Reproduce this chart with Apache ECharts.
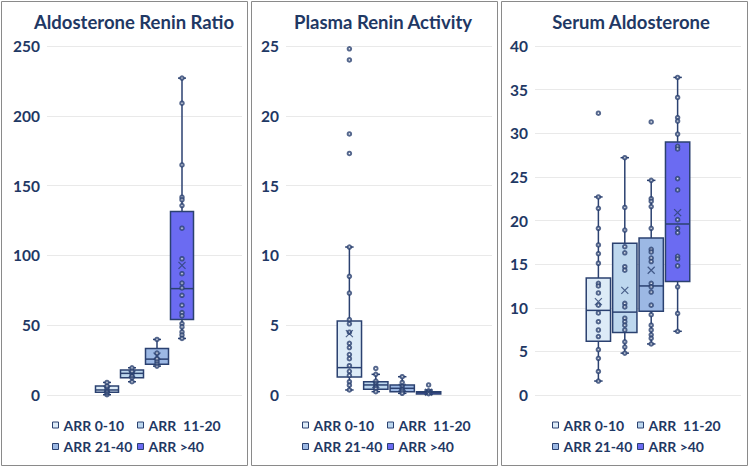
<!DOCTYPE html>
<html><head><meta charset="utf-8">
<script src="https://cdn.jsdelivr.net/npm/echarts@6/dist/echarts.min.js"></script>
<style>html,body{margin:0;padding:0;background:#fff}#c{width:750px;height:468px}</style>
</head><body><div id="c"></div><script>
// ---- data ----
const groupNames = ['ARR 0-10', 'ARR  11-20', 'ARR 21-40', 'ARR >40'];
const panelTitles = ['Aldosterone Renin Ratio', 'Plasma Renin Activity', 'Serum Aldosterone'];
const yMaxes = [250, 25, 40];
const yIntervals = [50, 5, 5];

// box stats per group: [min, Q1, median, Q3, max]
const arrBoxes = [[0.2, 1.9, 3.6, 6.4, 9.0], [9.5, 12.4, 15.5, 17.9, 19.5], [20.7, 22.1, 25.7, 33.3, 39.8], [40.5, 54, 76.2, 131.4, 227]];
const arrMeans = [4.0, 15.0, 27.9, 92.9];
const arrPoints = [
  [0.2, 1.5, 2.5, 3.5, 5, 6.5, 9.0],
  [9.5, 12.5, 14, 16, 17, 19.5],
  [20.7, 23, 24.5, 26, 30, 39.8],
  [227, 209, 164.8, 141.7, 139.8, 135.7, 119.5, 97.6, 86.9, 80.2, 76.7, 71.4, 64.3, 59, 56.7, 51.2, 48.8, 45.2, 42.9, 40.5]
];

const reninBoxes = [[0.36, 1.29, 1.96, 5.3, 10.6], [0.24, 0.41, 0.72, 0.95, 1.48], [0.12, 0.24, 0.48, 0.72, 1.31], [0.05, 0.07, 0.17, 0.24, 0.35]];
const reninMeans = [4.4, 0.75, 0.55, 0.2];
const reninPoints = [
  [24.8, 24.0, 18.7, 17.3, 10.6, 8.5, 7.3, 5.4, 5.1, 4.5, 3.7, 3.4, 2.9, 2.6, 2.1, 1.7, 1.4, 0.95, 0.7, 0.36],
  [1.9, 1.48, 1.0, 0.8, 0.6, 0.45, 0.24],
  [1.31, 0.9, 0.6, 0.4, 0.25, 0.12],
  [0.72, 0.3, 0.2, 0.1]
];

const aldoBoxes = [[1.6, 6.15, 9.7, 13.4, 22.7], [4.8, 7.15, 9.5, 17.4, 27.2], [5.85, 9.6, 12.5, 18.0, 24.6], [7.3, 13.0, 19.6, 29.0, 36.4]];
const aldoMeans = [10.7, 12.0, 14.3, 20.9];
const aldoPoints = [
  [32.3, 22.7, 21.4, 19.1, 17.2, 16.2, 15.1, 12.8, 12.5, 11.7, 10.3, 9.4, 8.4, 7.45, 6.7, 5.2, 4.2, 2.7, 1.6],
  [27.2, 21.5, 18.9, 17.0, 16.3, 14.7, 14.3, 10.5, 10.1, 8.8, 8.4, 8.0, 7.45, 6.1, 5.5, 4.8],
  [31.3, 24.6, 22.5, 22.2, 21.6, 19.1, 16.7, 16.4, 15.7, 15.3, 12.8, 12.4, 11.8, 10.3, 9.2, 8.0, 7.45, 6.9, 6.5, 5.85],
  [36.4, 34.1, 31.8, 31.4, 29.9, 28.5, 28.2, 24.8, 23.5, 20.1, 19.1, 18.6, 15.9, 15.6, 14.8, 12.4, 9.35, 7.3]
];

// ---- style ----
const FILLS = ['#DDEBF7', '#BDD7EE', '#9CB8E4', '#6B6BF2'];
const EDGE = '#2B4170';
const NAVY = '#1F3864';
const FONT = 'Lato, "Open Sans", sans-serif';
const BOX_W = 0.92, CAP_W = 0.32;

const panels = [
  { boxes: arrBoxes, means: arrMeans, points: arrPoints },
  { boxes: reninBoxes, means: reninMeans, points: reninPoints },
  { boxes: aldoBoxes, means: aldoMeans, points: aldoPoints }
];
const gridRects = [
  { left: 47, top: 46, width: 195, height: 349 },
  { left: 286, top: 46, width: 206, height: 349 },
  { left: 535, top: 46, width: 206, height: 349 }
];
const titleX = [129, 378, 626];
const legendX = [47, 297, 547];

function renderBox(params, api) {
  const x = api.value(0);
  const lo = api.coord([x, api.value(1)]);
  const q1 = api.coord([x, api.value(2)]);
  const md = api.coord([x, api.value(3)]);
  const q3 = api.coord([x, api.value(4)]);
  const hi = api.coord([x, api.value(5)]);
  const bw = api.size([BOX_W, 0])[0];
  const cw = api.size([CAP_W, 0])[0];
  const cx = lo[0];
  const ls = { stroke: EDGE, lineWidth: 1.5 };
  return { type: 'group', children: [
    { type: 'line', shape: { x1: cx, y1: q3[1], x2: cx, y2: hi[1] }, style: ls },
    { type: 'line', shape: { x1: cx - cw / 2, y1: hi[1], x2: cx + cw / 2, y2: hi[1] }, style: ls },
    { type: 'line', shape: { x1: cx, y1: q1[1], x2: cx, y2: lo[1] }, style: ls },
    { type: 'line', shape: { x1: cx - cw / 2, y1: lo[1], x2: cx + cw / 2, y2: lo[1] }, style: ls },
    { type: 'rect', shape: { x: cx - bw / 2, y: q3[1], width: bw, height: q1[1] - q3[1] }, style: { fill: api.visual('color'), stroke: EDGE, lineWidth: 1.5 } },
    { type: 'line', shape: { x1: cx - bw / 2, y1: md[1], x2: cx + bw / 2, y2: md[1] }, style: ls }
  ] };
}

const grid = [], xAxis = [], yAxis = [], series = [], title = [], legend = [];
panels.forEach((p, pi) => {
  grid.push(gridRects[pi]);
  xAxis.push({ type: 'value', gridIndex: pi, min: -2.4, max: 5.4, show: false });
  yAxis.push({
    type: 'value', gridIndex: pi, min: 0, max: yMaxes[pi], interval: yIntervals[pi],
    axisLine: { show: false }, axisTick: { show: false },
    splitLine: { lineStyle: { color: '#E9E9E9', width: 1 } },
    axisLabel: { color: NAVY, fontWeight: 'bold', fontSize: 15.5, fontFamily: FONT, margin: 7 }
  });
  title.push({
    text: panelTitles[pi], left: titleX[pi], top: 7, textAlign: 'center',
    textStyle: { color: NAVY, fontWeight: 'bold', fontSize: 18.5, fontFamily: FONT }
  });
  groupNames.forEach((name, gi) => {
    series.push({
      type: 'custom', name: name, xAxisIndex: pi, yAxisIndex: pi,
      renderItem: renderBox, itemStyle: { color: FILLS[gi] },
      encode: { x: 0, y: [1, 2, 3, 4, 5] },
      data: [[gi].concat(p.boxes[gi])], z: 2
    });
    series.push({
      type: 'scatter', name: name, xAxisIndex: pi, yAxisIndex: pi,
      symbol: 'emptyCircle', symbolSize: 3.5,
      itemStyle: { color: EDGE, borderWidth: 1 },
      data: p.points[gi].map(v => [gi, v]), z: 3, silent: true
    });
    series.push({
      type: 'scatter', name: name, xAxisIndex: pi, yAxisIndex: pi,
      symbol: 'path://M0,0L10,10M10,0L0,10', symbolSize: 7,
      itemStyle: { color: 'rgba(0,0,0,0)', borderColor: EDGE, borderWidth: 1.2 },
      data: [[gi, p.means[gi]]], z: 4, silent: true
    });
  });
  const legendCommon = {
    orient: 'vertical', top: 412, itemWidth: 6, itemHeight: 6, itemGap: 5.5, icon: 'rect',
    itemStyle: { borderColor: EDGE, borderWidth: 1 },
    textStyle: { color: NAVY, fontWeight: 'bold', fontSize: 14, fontFamily: FONT, lineHeight: 16 }
  };
  legend.push(Object.assign({}, legendCommon, { left: legendX[pi], data: [groupNames[0], groupNames[2]] }));
  legend.push(Object.assign({}, legendCommon, { left: legendX[pi] + 85, data: [groupNames[1], groupNames[3]] }));
});

const panelFrames = [0, 1, 2].map(i => ({
  type: 'rect', shape: { x: 1.5 + i * 250, y: 1.5, width: 246, height: 464 },
  style: { fill: 'none', stroke: '#8A8A8A', lineWidth: 1 }, silent: true, z: -1
}));

const chart = echarts.init(document.getElementById('c'), null, { renderer: 'svg' });
chart.setOption({
  animation: false,
  backgroundColor: '#fff',
  title, legend, grid, xAxis, yAxis, series,
  graphic: panelFrames
});
</script></body></html>
